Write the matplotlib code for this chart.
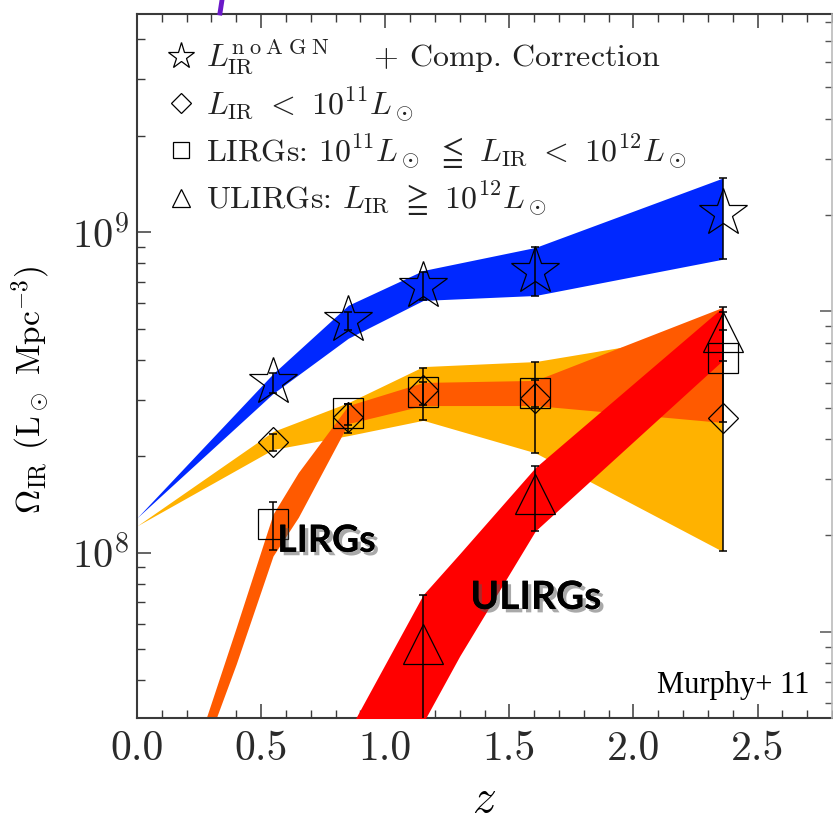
import matplotlib
matplotlib.use("Agg")
import matplotlib.pyplot as plt
from matplotlib.lines import Line2D
from matplotlib.ticker import LogLocator, LogFormatterMathtext, MultipleLocator, FormatStrFormatter, NullFormatter
import matplotlib.patheffects as pe
import numpy as np

plt.rcParams["font.family"] = ["cmr10", "DejaVu Sans"]
plt.rcParams["mathtext.fontset"] = "cm"
plt.rcParams["axes.formatter.use_mathtext"] = True

# Redshift bins
z_bins = [0.548, 0.851, 1.153, 1.605, 2.359]
z_ulirg = [1.153, 1.605, 2.359]

# Total IR density (AGN removed + completeness correction)
tot_val = [3.42e8, 5.31e8, 6.82e8, 7.55e8, 1.146e9]
tot_hi = [3.65e8, 5.62e8, 7.50e8, 8.97e8, 1.476e9]
tot_lo = [3.16e8, 4.94e8, 6.13e8, 6.35e8, 8.24e8]

# L_IR < 1e11
low_val = [2.21e8, 2.65e8, 3.21e8, 3.03e8, 2.64e8]
low_hi = [2.34e8, 2.92e8, 3.78e8, 3.93e8, 4.94e8]
low_lo = [2.08e8, 2.36e8, 2.59e8, 2.05e8, 1.01e8]

# LIRGs
lirg_val = [1.23e8, 2.72e8, 3.18e8, 3.16e8, 4.06e8]
lirg_hi = [1.44e8, 2.92e8, 3.40e8, 3.45e8, 5.62e8]
lirg_lo = [1.02e8, 2.51e8, 2.90e8, 2.86e8, 2.55e8]

# ULIRGs
ulirg_val = [5.20e7, 1.52e8, 4.87e8]
ulirg_hi = [7.40e7, 1.86e8, 5.83e8]
ulirg_lo = [1.0e7, 1.17e8, 3.98e8]

# Shaded evolution bands
band_tot_z = [0.0, 0.548, 0.851, 1.153, 1.605, 2.359]
band_tot_hi = [1.285e8, 3.62e8, 5.92e8, 7.60e8, 8.97e8, 1.476e9]
band_tot_lo = [1.285e8, 3.14e8, 4.67e8, 6.13e8, 6.35e8, 8.24e8]

band_low_z = [0.0, 0.548, 0.851, 1.153, 1.605, 2.359]
band_low_hi = [1.213e8, 2.39e8, 2.94e8, 3.81e8, 3.95e8, 4.94e8]
band_low_lo = [1.213e8, 2.10e8, 2.32e8, 2.59e8, 2.05e8, 1.01e8]

band_lirg_z = [0.25, 0.40, 0.548, 0.65, 0.851, 1.153, 1.605, 2.359]
band_lirg_hi = [2.61e7, 5.85e7, 1.32e8, 1.78e8, 2.88e8, 3.40e8, 3.45e8, 5.83e8]
band_lirg_lo = [2.18e7, 4.50e7, 9.77e7, 1.29e8, 2.53e8, 2.88e8, 2.88e8, 2.55e8]

band_ulirg_z = [0.85, 1.153, 1.30, 1.605, 2.359]
band_ulirg_hi = [2.75e7, 7.40e7, 9.93e7, 1.845e8, 5.83e8]
band_ulirg_lo = [1.58e7, 2.95e7, 4.76e7, 1.17e8, 3.98e8]

c_blue = "#0028ff"
c_yellow = "#ffb200"
c_orange = "#ff5a00"
c_red = "#ff0000"
axis_col = "#3a3a3a"

fig = plt.figure(figsize=(8.33, 8.22), dpi=100)
ax = fig.add_axes([137 / 833, 104 / 822, 695 / 833, 704 / 822])

ax.fill_between(band_low_z, band_low_lo, band_low_hi, color=c_yellow, lw=0, zorder=1)
ax.fill_between(band_lirg_z, band_lirg_lo, band_lirg_hi, color=c_orange, lw=0, zorder=2)
ax.fill_between(band_ulirg_z, band_ulirg_lo, band_ulirg_hi, color=c_red, lw=0, zorder=3)
ax.fill_between(band_tot_z, band_tot_lo, band_tot_hi, color=c_blue, lw=0, zorder=3)


def points(z, val, lo, hi, marker, ms):
    val = np.array(val)
    yerr = [val - np.array(lo), np.array(hi) - val]
    ax.errorbar(z, val, yerr=yerr, fmt="none", ecolor="k", elinewidth=1.1,
                capsize=3, capthick=1.1, zorder=5)
    ax.plot(z, val, ls="none", marker=marker, ms=ms, mfc="none", mec="k",
            mew=0.9, zorder=6)


points(z_bins, tot_val, tot_lo, tot_hi, "*", 36)
points(z_bins, low_val, low_lo, low_hi, "D", 15)
points(z_bins, lirg_val, lirg_lo, lirg_hi, "s", 22)
points(z_ulirg, ulirg_val, ulirg_lo, ulirg_hi, "^", 29)

ax.set_yscale("log")
ax.set_xlim(0.0, 2.8)
ylo, yhi = 3.05e7, 4.80e9
ax.set_ylim(ylo, yhi)

ax.xaxis.set_major_locator(MultipleLocator(0.5))
ax.xaxis.set_minor_locator(MultipleLocator(0.1))
ax.xaxis.set_major_formatter(FormatStrFormatter("%.1f"))
ax.yaxis.set_major_locator(LogLocator(base=10))
ax.yaxis.set_major_formatter(LogFormatterMathtext())
ax.yaxis.set_minor_locator(LogLocator(base=10, subs=np.arange(2, 10)))
ax.yaxis.set_minor_formatter(NullFormatter())

ax.tick_params(axis="both", which="both", direction="in", colors=axis_col)
ax.tick_params(axis="x", which="both", top=True, bottom=True)
ax.tick_params(axis="y", which="both", left=True, right=False)
ax.tick_params(which="major", length=10, width=1.1)
ax.tick_params(which="minor", length=5.5, width=1.0)
ax.tick_params(axis="x", which="major", labelsize=30, pad=9, labelcolor="#2a2a2a")
ax.tick_params(axis="y", which="major", labelsize=29, pad=6, labelcolor="#2a2a2a")

for s in ["top", "bottom", "left"]:
    ax.spines[s].set_color(axis_col)
    ax.spines[s].set_linewidth(1.5)
ax.spines["right"].set_visible(False)

# secondary right-hand scale
ax2 = ax.twinx()
ax2.set_yscale("log")
k = 10 ** 0.247
ax2.set_ylim(ylo * k, yhi * k)
ax2.yaxis.set_major_locator(LogLocator(base=10))
ax2.yaxis.set_minor_locator(LogLocator(base=10, subs=np.arange(2, 10)))
ax2.yaxis.set_major_formatter(NullFormatter())
ax2.yaxis.set_minor_formatter(NullFormatter())
ax2.tick_params(axis="y", which="both", direction="in", colors="#555555")
ax2.tick_params(which="major", length=9, width=1.1)
ax2.tick_params(which="minor", length=5, width=1.0)
for s in ["top", "bottom", "left"]:
    ax2.spines[s].set_visible(False)
ax2.spines["right"].set_color("#bbbbbb")
ax2.spines["right"].set_linewidth(1.2)

ax.set_xlabel(r"$z$", fontsize=34, labelpad=8)
ax.set_ylabel(r"$\Omega_{\rm IR}$ (L$_\odot$ Mpc$^{-3}$)", fontsize=24)
ax.yaxis.set_label_coords(-0.122, 0.466)

handles = [
    Line2D([], [], ls="none", marker="*", ms=20, mfc="none", mec="k", mew=0.9),
    Line2D([], [], ls="none", marker="D", ms=10, mfc="none", mec="k", mew=0.9),
    Line2D([], [], ls="none", marker="s", ms=12, mfc="none", mec="k", mew=0.9),
    Line2D([], [], ls="none", marker="^", ms=13, mfc="none", mec="k", mew=0.9),
]
labels = [
    r"$L_{\rm IR}^{\rm n\;o\;A\;G\;N}\quad\;\;$+ Comp. Correction",
    r"$L_{\rm IR}$ $<$ $10^{11}L_\odot$",
    r"LIRGs: $10^{11}L_\odot$ $\leqq$ $L_{\rm IR}$ $<$ $10^{12}L_\odot$",
    r"ULIRGs: $L_{\rm IR}$ $\geqq$ $10^{12}L_\odot$",
]
leg = ax.legend(handles, labels, loc="upper left", bbox_to_anchor=(0.040, 0.966),
                frameon=False, fontsize=23, handlelength=1.0, handletextpad=0.3,
                borderpad=0, borderaxespad=0, labelspacing=0.27)
for t in leg.get_texts():
    t.set_color("#222222")

shadow = [pe.withSimplePatchShadow(offset=(2.5, -2.5), shadow_rgbFace="#555555", alpha=0.5),
          pe.Normal()]
ax.text(0.565, 1.007e8, "LIRGs", fontsize=27, fontweight="bold", family="Lato",
        ha="left", va="baseline", color="k", path_effects=shadow, zorder=7)
ax.text(1.343, 6.68e7, "ULIRGs", fontsize=28, fontweight="bold", family="Lato",
        ha="left", va="baseline", color="k", path_effects=shadow, zorder=7)
ax.text(0.968, 0.0355, "Murphy+ 11", fontsize=22, family="Liberation Serif",
        ha="right", va="baseline", color="k", transform=ax.transAxes, zorder=7)

fig.add_artist(Line2D([222 / 833, 220 / 833], [1.0, 1 - 13 / 822],
                      color="#6a18c8", lw=3.5, transform=fig.transFigure))

fig.savefig("out.png", dpi=100)
